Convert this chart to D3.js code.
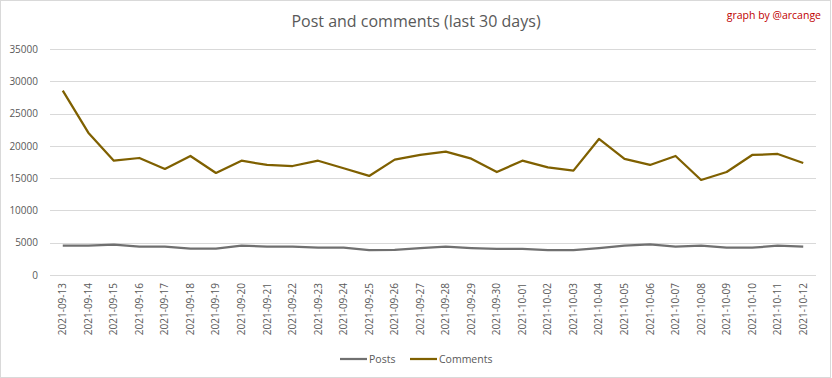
<!DOCTYPE html>
<html lang="en">
<head>
    <meta charset="UTF-8">
    <title>Post and comments</title>
    <script src="https://d3js.org/d3.v7.min.js"></script>
    <style>
        body { margin: 0; background: #fff; }
        svg text { font-family: "Open Sans", "Liberation Sans", sans-serif; }
    </style>
</head>
<body>
    <div id="chart"></div>
    <script>
        // Data
        const dates = [
            "2021-09-13", "2021-09-14", "2021-09-15", "2021-09-16", "2021-09-17", "2021-09-18",
            "2021-09-19", "2021-09-20", "2021-09-21", "2021-09-22", "2021-09-23", "2021-09-24",
            "2021-09-25", "2021-09-26", "2021-09-27", "2021-09-28", "2021-09-29", "2021-09-30",
            "2021-10-01", "2021-10-02", "2021-10-03", "2021-10-04", "2021-10-05", "2021-10-06",
            "2021-10-07", "2021-10-08", "2021-10-09", "2021-10-10", "2021-10-11", "2021-10-12"
        ];
        const posts = [
            4540, 4550, 4700, 4390, 4390, 4080, 4080, 4540, 4390, 4390,
            4230, 4230, 3870, 3900, 4180, 4390, 4180, 4030, 4030, 3870,
            3870, 4180, 4540, 4750, 4390, 4540, 4230, 4230, 4540, 4390
        ];
        const comments = [
            28550, 22040, 17700, 18120, 16420, 18430, 15800, 17700, 17040, 16880,
            17700, 16530, 15340, 17870, 18590, 19100, 18020, 15950, 17700, 16680,
            16160, 21070, 17970, 17040, 18430, 14720, 15950, 18590, 18740, 17350
        ];
        const yTicks = [0, 5000, 10000, 15000, 20000, 25000, 30000, 35000];
        const seriesNames = ["Posts", "Comments"];
        const seriesColors = ["#707070", "#7f6000"];

        const W = 832, H = 378;
        const margin = {top: 49, right: 16, bottom: 103, left: 50};
        const width = W - margin.left - margin.right;
        const height = H - margin.top - margin.bottom;

        const svg = d3.select("#chart").append("svg")
            .attr("width", W).attr("height", H);

        // chart border
        svg.append("rect")
            .attr("x", 0.5).attr("y", 0.5)
            .attr("width", W - 2).attr("height", H - 1)
            .attr("fill", "#fff").attr("stroke", "#d9d9d9");

        const g = svg.append("g")
            .attr("transform", `translate(${margin.left},${margin.top})`);

        const x = d3.scaleBand().domain(dates).range([0, width]);
        const y = d3.scaleLinear().domain([0, 35000]).range([height, 0]);

        // gridlines
        g.selectAll(".grid").data(yTicks).enter().append("line")
            .attr("x1", 0).attr("x2", width)
            .attr("y1", d => Math.round(y(d)) + 0.5)
            .attr("y2", d => Math.round(y(d)) + 0.5)
            .attr("stroke", "#d9d9d9").attr("stroke-width", 1);

        // y axis labels
        const yAxis = g.append("g")
            .call(d3.axisLeft(y).tickValues(yTicks).tickSize(0).tickPadding(12).tickFormat(d3.format("d")));
        yAxis.select(".domain").remove();
        yAxis.selectAll("text")
            .attr("fill", "#595959").style("font-size", "10px");

        // x axis labels
        const xAxis = g.append("g")
            .attr("transform", `translate(0,${height})`)
            .call(d3.axisBottom(x).tickSize(0));
        xAxis.select(".domain").remove();
        xAxis.selectAll("text")
            .attr("transform", "rotate(-90)")
            .attr("x", -8).attr("y", 0).attr("dy", "0.35em")
            .attr("text-anchor", "end")
            .attr("fill", "#595959").style("font-size", "10px");

        // lines
        const line = d3.line()
            .x((d, i) => x(dates[i]) + x.bandwidth() / 2)
            .y(d => y(d));

        [posts, comments].forEach((vals, k) => {
            g.append("path")
                .datum(vals)
                .attr("fill", "none")
                .attr("stroke", seriesColors[k])
                .attr("stroke-width", 2.25)
                .attr("stroke-linejoin", "round")
                .attr("d", line);
        });

        // title
        svg.append("text")
            .attr("x", 416).attr("y", 27)
            .attr("text-anchor", "middle")
            .attr("fill", "#595959")
            .style("font-size", "16px")
            .text("Post and comments (last 30 days)");

        svg.append("text")
            .attr("x", 821).attr("y", 19)
            .attr("text-anchor", "end")
            .attr("fill", "#c00000")
            .style("font-size", "10.5px")
            .text("graph by @arcange");

        // legend
        const legendX = [340, 410];
        seriesNames.forEach((name, k) => {
            const lg = svg.append("g").attr("transform", `translate(${legendX[k]},359)`);
            lg.append("line")
                .attr("x1", 0).attr("x2", 27).attr("y1", 0).attr("y2", 0)
                .attr("stroke", seriesColors[k]).attr("stroke-width", 2.25);
            lg.append("text")
                .attr("x", 29).attr("y", 0).attr("dy", "0.35em")
                .attr("fill", "#595959").style("font-size", "10.5px")
                .text(name);
        });
    </script>
</body>
</html>
